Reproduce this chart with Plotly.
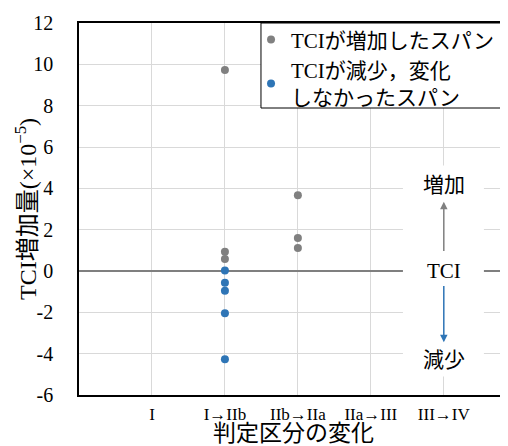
import plotly.graph_objects as go

# ---- data ----
categories = ["I", "I→IIb", "IIb→IIa", "IIa→III", "III→IV"]
inc_cat = ["I→IIb", "I→IIb", "I→IIb", "IIb→IIa", "IIb→IIa", "IIb→IIa"]
inc_val = [9.72, 0.93, 0.58, 3.66, 1.60, 1.11]
dec_cat = ["I→IIb", "I→IIb", "I→IIb", "I→IIb", "I→IIb"]
dec_val = [0.03, -0.57, -0.95, -2.05, -4.27]
ytick_vals = [-6, -4, -2, 0, 2, 4, 6, 8, 10, 12]
ytick_text = ["-6", "-4", "-2", "0", "2", "4", "6", "8", "10", "12"]
inc_name = "TCIが増加したスパン"
dec_name = "TCIが減少，変化<br>しなかったスパン"
y_title = "TCI増加量(×10<sup>−5</sup>)"
x_title = "判定区分の変化"

pos = {c: i + 1 for i, c in enumerate(categories)}
FONT = "Liberation Serif, Noto Sans CJK JP, serif"
GRAY = "#808080"
BLUE = "#2e75b6"

fig = go.Figure()
fig.add_trace(go.Scatter(x=[pos[c] for c in inc_cat], y=inc_val, mode="markers",
                         name=inc_name, marker=dict(color=GRAY, size=8)))
fig.add_trace(go.Scatter(x=[pos[c] for c in dec_cat], y=dec_val, mode="markers",
                         name=dec_name, marker=dict(color=BLUE, size=8)))

# white box behind the TCI explanation
ann_x = pos["III→IV"]
fig.add_shape(type="rect", xref="x", yref="y", x0=ann_x - 0.56, x1=ann_x + 0.55,
              y0=-5.1, y1=5.1, fillcolor="white", line=dict(width=0), layer="above")
# legend frame
fig.add_shape(type="rect", xref="paper", yref="paper", x0=0.4242, x1=0.995,
              y0=0.7715, y1=1.0, fillcolor="white", line=dict(color="black", width=1),
              layer="above")

fig.add_annotation(x=ann_x, y=0, text="TCI", showarrow=False,
                   font=dict(family=FONT, size=21, color="black"))
fig.add_annotation(x=ann_x, y=4.15, text="増加", showarrow=False,
                   font=dict(family=FONT, size=21, color="black"))
fig.add_annotation(x=ann_x, y=-4.3, text="減少", showarrow=False,
                   font=dict(family=FONT, size=21, color="black"))
fig.add_annotation(x=ann_x, y=3.35, ax=ann_x, ay=0.9, xref="x", yref="y",
                   axref="x", ayref="y", text="", showarrow=True,
                   arrowhead=2, arrowsize=1, arrowwidth=1.5, arrowcolor=GRAY)
fig.add_annotation(x=ann_x, y=-3.45, ax=ann_x, ay=-0.65, xref="x", yref="y",
                   axref="x", ayref="y", text="", showarrow=True,
                   arrowhead=2, arrowsize=1, arrowwidth=1.5, arrowcolor=BLUE)
# y axis title
fig.add_annotation(x=-0.1235, y=0.5, xref="paper", yref="paper", text=y_title,
                   textangle=-90, showarrow=False, xanchor="center", yanchor="middle",
                   font=dict(family=FONT, size=24, color="#000000"))

# page body has an 8px margin, so the figure is 8px smaller and margins shifted
fig.update_layout(
    width=500, height=438,
    margin=dict(l=71, r=0, t=15, b=51, autoexpand=False),
    paper_bgcolor="white", plot_bgcolor="white",
    font=dict(family=FONT, color="black"),
    showlegend=True,
    legend=dict(x=0.401, y=1.01, xanchor="left", yanchor="top",
                bgcolor="rgba(0,0,0,0)", borderwidth=0,
                font=dict(family=FONT, size=21, color="black"),
                tracegroupgap=0, itemwidth=30),
    xaxis=dict(range=[0, 5.88], tickvals=[pos[c] for c in categories], ticktext=categories,
               showgrid=True, gridcolor="#d9d9d9", gridwidth=1, zeroline=False,
               showline=True, linecolor="black", linewidth=1.5, mirror=True,
               ticks="", tickfont=dict(family=FONT, size=17, color="black"),
               ticklabelstandoff=3, automargin=False,
               title=dict(text=x_title, font=dict(family=FONT, size=23, color="black"),
                          standoff=9)),
    yaxis=dict(range=[-6, 12], tickvals=ytick_vals, ticktext=ytick_text,
               showgrid=True, gridcolor="#d9d9d9", gridwidth=1,
               zeroline=True, zerolinecolor="#7f7f7f", zerolinewidth=1.5,
               showline=True, linecolor="black", linewidth=1.5,
               ticks="", tickfont=dict(family=FONT, size=20, color="black"),
               ticklabelstandoff=20, automargin=False),
)

fig.write_html("out.html")
